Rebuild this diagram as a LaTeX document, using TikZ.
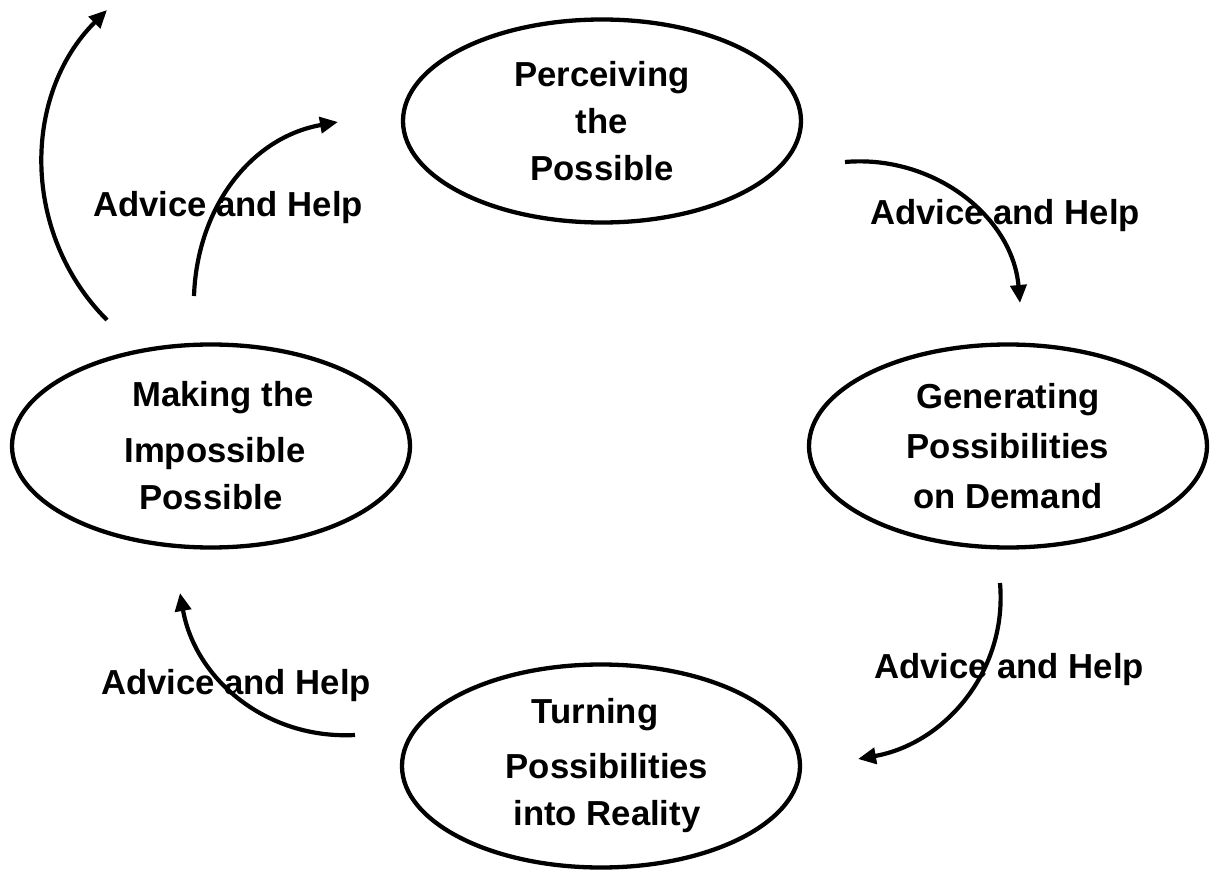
\documentclass[tikz,border=0pt]{standalone}
\usepackage{fontspec}
\setmainfont{Liberation Sans}
\usetikzlibrary{arrows.meta,shapes.geometric}
\newcommand{\diagfont}{\fontsize{34.7}{47}\selectfont\bfseries}
\tikzset{
  stage/.style={draw, ellipse, line width=4.3pt, minimum width=398pt, minimum height=203pt,
                inner sep=0pt, align=center, font=\diagfont},
  lbl/.style={anchor=base, font=\diagfont, inner sep=0pt},
  flow/.style={line width=4.2pt, -{Triangle[length=18pt,width=16pt]}}
}
\begin{document}
\begin{tikzpicture}[x=1pt,y=1pt]
  \useasboundingbox (0,0) rectangle (1211,-872);

  % stages
  \node[stage] (perc) at (602,-121) {Perceiving\\the\\Possible};
  \node[stage] (gen)  at (1008,-446) {Generating\\[3pt]Possibilities\\[3pt]on Demand};
  \node[stage] (turn) at (601,-766) {\hspace*{-12pt}Turning\\[8pt]\hspace*{12pt}Possibilities\\\hspace*{12pt}into Reality};
  \node[stage] (make) at (211,-446) {\hspace*{24pt}Making the\\[9pt]\hspace*{8pt}Impossible\\Possible};

  % labels
  \node[lbl] (l1) at (228,-217) {Advice and Help};
  \node[lbl] (l2) at (1005,-225) {Advice and Help};
  \node[lbl] (l3) at (1009,-678) {Advice and Help};
  \node[lbl] (l4) at (236,-694) {Advice and Help};

  % arrow end points
  \coordinate (o1) at (107,-320);  \coordinate (t1) at (107,-10);
  \coordinate (o2) at (194,-296);  \coordinate (t2) at (338,-122);
  \coordinate (o3) at (845,-162);  \coordinate (t3) at (1020,-303);
  \coordinate (o4) at (1000,-583); \coordinate (t4) at (858,-759);
  \coordinate (o5) at (355,-735);  \coordinate (t5) at (180,-593);

  % arrows
  \draw[flow] (o1) to[out=135,in=-135] (t1);
  \draw[flow] (o2) to[out=88,in=190] (t2);
  \draw[flow] (o3) to[out=5,in=95] (t3);
  \draw[flow] (o4) to[out=-85,in=10] (t4);
  \draw[flow] (o5) to[out=183,in=-80] (t5);
\end{tikzpicture}
\end{document}
